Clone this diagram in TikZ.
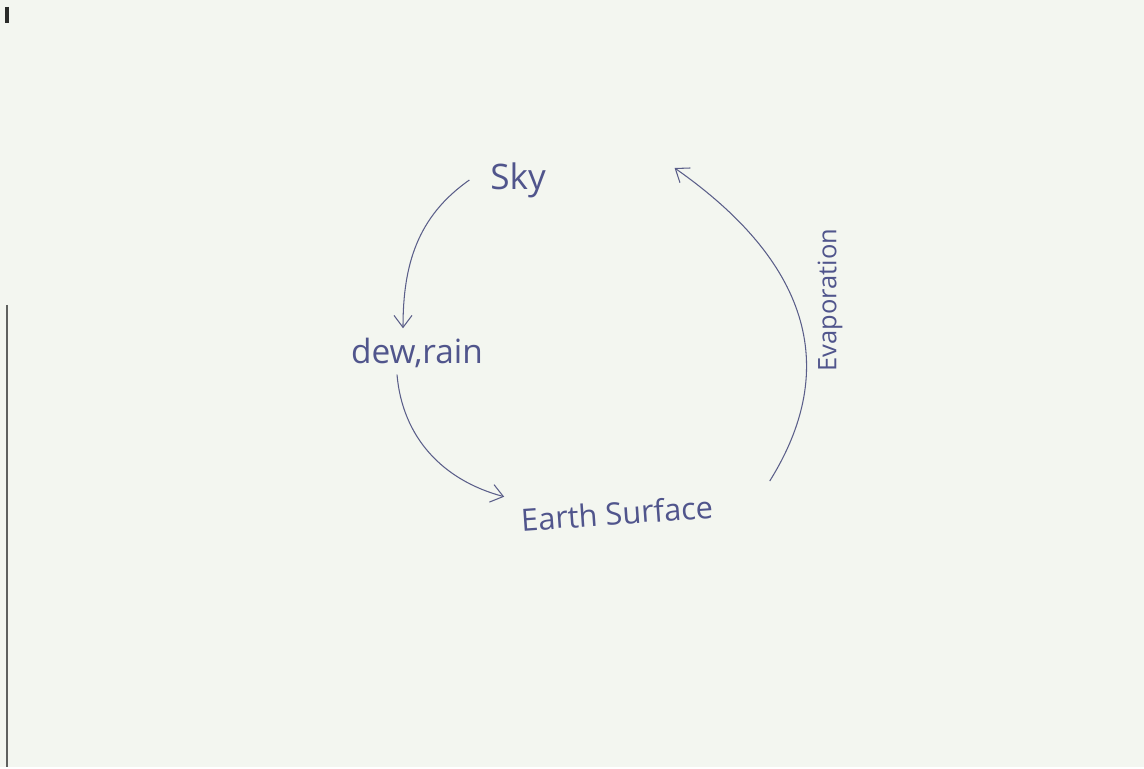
\documentclass[tikz,border=0pt]{standalone}
\usepackage{fontspec}
\setmainfont{Open Sans}
\usetikzlibrary{arrows.meta,positioning}
\definecolor{paper}{HTML}{F3F6F0}
\definecolor{pen}{HTML}{50558C}
\definecolor{edge}{HTML}{2A2C2A}
\tikzset{word/.style={pen,font=\fontsize{18}{20}\selectfont,inner sep=2pt},flow/.style={pen!80!gray,line width=.6pt,-{Straight Barb[length=2.4mm,width=3.6mm]}}}

\begin{document}
\begin{tikzpicture}[scale=1]
\fill[paper] (0,0) rectangle (22.88,15.34);
\draw[edge,line width=1.8pt] (.14,15.2)--(.14,14.88);\draw[edge!75,line width=1.2pt] (.14,9.24)--(.14,0);
\node[word,font=\fontsize{20}{22}\selectfont] (sky) at (10.36,11.74){Sky};
\node[word,font=\fontsize{19}{21}\selectfont] (dew) at (8.34,8.28){dew,rain};
\node[word,font=\fontsize{17.5}{20}\selectfont,rotate=4] (earth) at (12.34,5.08){Earth Surface};
\node[word,rotate=90,font=\fontsize{14.5}{16}\selectfont] (evap) at (16.6,9.34){Evaporation};
\draw[flow] ([xshift=-3.4mm]sky.west) to[out=215,in=90] ([xshift=-2.8mm,yshift=1.2mm]dew.north);
\draw[flow] ([xshift=-4mm,yshift=-.6mm]dew.south) to[out=-85,in=165] ([xshift=-2.4mm,yshift=1.5mm]earth.north west);
\draw[flow] ([shift={(1.06,.5)}]earth.east) .. controls +(58:2.9) and +(-35:3) .. ([shift={(2.5,.24)}]sky.east);
\end{tikzpicture}
\end{document}
